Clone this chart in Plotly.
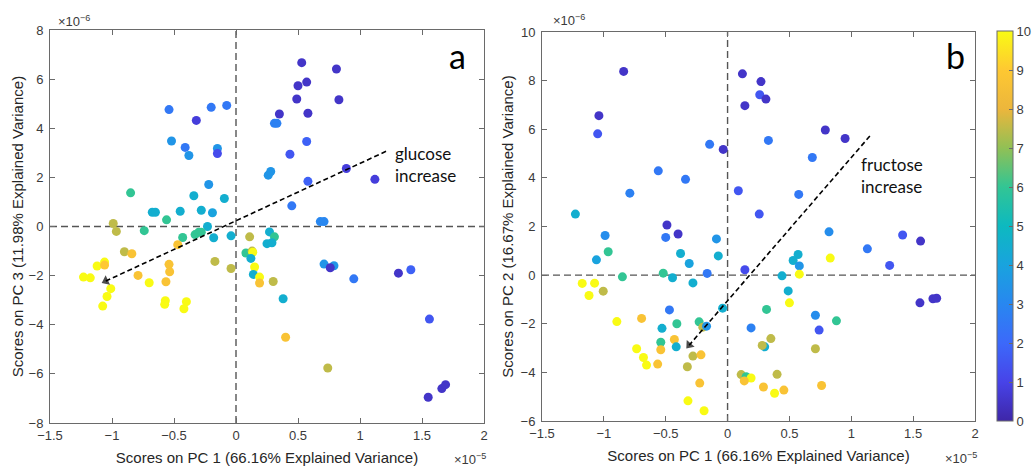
import plotly.graph_objects as go

# ---------------- data (PC1 in units of 1e-5, PC2/PC3 in units of 1e-6) ----------------
a_pc1 = [-0.54, -0.20, -0.075, -0.32, -0.52, -0.41, -0.38, -0.15, -0.15, -0.22, -0.34, -0.094,
         -0.85, -0.675, -0.65, -0.45, -0.28, -0.19, -0.56, -0.23, -0.99, -0.965, -0.74, -0.43,
         -0.33, -0.30, -0.28, -0.18, -0.04, -0.47, -0.90, -0.84, -0.17, -0.04, -1.06, -1.12,
         -1.06, -0.54, -0.535, -0.79, -1.23, -1.175, -0.70, -0.565, -1.01, -1.04, -1.075, -0.57,
         -0.575, -0.40, -0.42, 0.11, 0.27, 0.31, 0.25, 0.29, 0.08, 0.13, 0.135, 0.12,
         0.15, 0.14, 0.19, 0.19, 0.30, 0.38, 0.40, 0.74, 0.71, 0.79, 0.76, 0.95,
         1.31, 1.41, 1.56, 1.55, 1.66, 1.69, 0.53, 0.81, 0.57, 0.50, 0.49, 0.83,
         0.35, 0.58, 0.31, 0.33, 0.57, 0.435, 0.89, 1.12, 0.58, 0.26, 0.28, 0.45,
         0.68, 0.71]
a_pc3 = [4.76, 4.85, 4.93, 4.32, 3.48, 3.22, 2.89, 3.18, 2.97, 1.71, 1.25, 1.14,
         1.37, 0.58, 0.58, 0.62, 0.66, 0.56, 0.27, 0.00, 0.12, -0.20, -0.17, -0.45,
         -0.33, -0.23, -0.23, -0.46, -0.38, -0.74, -1.03, -1.11, -1.42, -1.71, -1.45, -1.61,
         -1.57, -1.54, -1.84, -1.99, -2.06, -2.09, -2.29, -2.25, -2.53, -2.85, -3.24, -3.02,
         -3.17, -3.06, -3.35, -0.42, -0.22, -0.42, -0.70, -0.66, -1.08, -1.00, -1.05, -1.30,
         -1.65, -1.95, -2.06, -2.30, -2.24, -2.94, -4.51, -5.76, -1.53, -1.60, -1.68, -2.13,
         -1.90, -1.76, -3.77, -6.95, -6.60, -6.44, 6.67, 6.41, 5.88, 5.73, 5.19, 5.16,
         4.58, 4.61, 4.20, 4.20, 3.46, 2.94, 2.36, 1.92, 1.84, 2.09, 2.24, 0.84,
         0.20, 0.20]
a_level = [2.5, 2.5, 2.5, 0.8, 3.5, 2.5, 3.5, 3.5, 1.2, 3.5, 4.5, 4.5,
           6, 4.5, 4.5, 4.5, 4.5, 4, 6, 4.5, 7.5, 7.5, 6, 6,
           6, 6, 6, 4.5, 4.5, 8.7, 7.5, 8.7, 7.5, 7.5, 10, 10,
           9, 8.7, 8.7, 8.7, 10, 10, 10, 8.7, 10, 10, 10, 10,
           10, 10, 10, 7.5, 4.5, 6, 4.5, 4.5, 6, 7.5, 10, 4.5,
           10, 4.5, 10, 8.7, 7.5, 4.5, 8.7, 7.5, 3.5, 3.5, 0.5, 2.5,
           0.5, 1.8, 1.5, 0.5, 0.5, 0.5, 0.5, 0.5, 0.5, 0.5, 0.5, 0.5,
           0.5, 0.5, 2.8, 2.8, 1.8, 1.5, 0.8, 0.8, 1.8, 3.5, 3.5, 2.5,
           3, 3]

b_pc1 = [-0.84, -1.04, -1.05, -0.145, -0.035, -0.56, -0.34, -0.79, -1.23, -0.49, -0.40, -0.99,
         -0.50, -0.09, 0.12, 0.27, 0.26, 0.31, 0.14, 0.33, 0.087, 0.256, 0.79, 0.95,
         0.685, 0.575, 0.82, 1.415, 1.56, 1.13, 1.31, 0.83, 0.57, 0.53, 0.58, 0.58,
         0.44, 0.49, 0.50, 0.315, 1.555, 1.66, 1.69, 0.71, 0.88, 0.74, 0.35, 0.30,
         0.28, 0.71, 0.40, 0.29, 0.76, 0.38, 0.455, -1.06, -0.965, -0.38, -0.31, -0.075,
         -0.85, -0.52, -0.445, -0.28, -0.165, 0.14, -1.175, -1.075, -1.12, -1.005, -0.895, -0.695,
         -0.47, -0.04, -0.53, -0.41, -0.23, -0.20, -0.17, 0.19, -0.54, -0.43, -0.415, -0.54,
         -0.735, -0.68, -0.655, -0.565, -0.28, -0.215, -0.325, -0.225, -0.32, -0.19, 0.11, 0.15,
         0.19, 0.135]
b_pc2 = [8.38, 6.56, 5.81, 5.38, 5.17, 4.29, 3.94, 3.37, 2.51, 2.06, 1.69, 1.63,
         1.55, 1.49, 8.28, 7.96, 7.42, 7.24, 6.97, 5.54, 3.47, 2.51, 5.97, 5.62,
         4.84, 3.32, 1.78, 1.65, 1.40, 1.08, 0.40, 0.70, 0.85, 0.60, 0.38, 0.04,
         -0.03, -0.65, -1.14, -1.41, -1.14, -0.97, -0.95, -1.65, -1.88, -2.26, -2.61, -2.95,
         -2.89, -3.03, -4.08, -4.60, -4.54, -4.86, -4.73, 0.63, 0.96, 0.89, 0.48, 0.79,
         -0.07, 0.08, -0.11, -0.32, 0.07, 0.22, -0.34, -0.33, -0.84, -0.66, -1.91, -1.78,
         -1.43, -1.36, -2.19, -2.00, -1.92, -2.14, -2.10, -2.17, -2.76, -2.65, -2.95, -3.07,
         -3.03, -3.39, -3.70, -3.66, -3.33, -3.28, -3.77, -4.44, -5.17, -5.58, -4.09, -4.18,
         -4.23, -4.35]
b_level = [0.5, 0.5, 1.5, 2.5, 0.5, 2.5, 2.5, 2.8, 4.5, 0.5, 0.5, 3.2,
           2.5, 3.5, 0.5, 0.5, 1.5, 0.5, 0.5, 2.5, 1.5, 1.5, 0.5, 0.5,
           2.5, 2.5, 3.2, 1.5, 0.5, 2.5, 1.5, 10, 4.5, 4.5, 3.5, 10,
           4.5, 4.5, 10, 6, 0.5, 0.5, 0.5, 3.2, 6, 1.5, 7.5, 4.5,
           7.5, 7.5, 7.5, 8.7, 8.7, 10, 8.7, 4, 6, 4.5, 4, 4.5,
           6, 6, 4.5, 4.5, 2.5, 1.2, 10, 10, 10, 7.5, 10, 8.7,
           2.5, 4.5, 4.5, 6, 6, 7.5, 3.5, 2.8, 6, 8.7, 4.5, 8.7,
           10, 10, 10, 8.7, 7.5, 8.7, 7.5, 8.7, 10, 10, 7.5, 6,
           10, 8.7]

# arrows: [start, end] in data units
a_arrow_x = [1.21, -1.05]
a_arrow_y = [3.06, -2.22]
b_arrow_x = [1.15, -0.31]
b_arrow_y = [5.72, -2.88]

x_ticks = [-1.5, -1, -0.5, 0, 0.5, 1, 1.5, 2]
a_y_ticks = [-8, -6, -4, -2, 0, 2, 4, 6, 8]
b_y_ticks = [-6, -4, -2, 0, 2, 4, 6, 8, 10]
cbar_ticks = list(range(0, 11))

x_title = "Scores on PC 1 (66.16% Explained Variance)"
a_y_title = "Scores on PC 3 (11.98% Explained Variance)"
b_y_title = "Scores on PC 2 (16.67% Explained Variance)"

# ---------------- styling ----------------
W, H = 1035, 468


def px_x(p):
    return p / W


def px_y(p):
    return 1 - p / H


parula = [
    [0.0, "rgb(62,38,168)"],
    [0.1, "rgb(71,67,232)"],
    [0.2, "rgb(60,105,250)"],
    [0.3, "rgb(40,135,240)"],
    [0.4, "rgb(25,163,222)"],
    [0.5, "rgb(13,185,192)"],
    [0.6, "rgb(50,197,148)"],
    [0.7, "rgb(145,192,85)"],
    [0.8, "rgb(236,182,60)"],
    [0.9, "rgb(254,200,50)"],
    [1.0, "rgb(249,251,20)"],
]

AX_COLOR = "#6a6a6a"
TICK_FONT = dict(family="Liberation Sans, Arial, sans-serif", size=13, color="#3a3a3a")
TITLE_FONT = dict(family="Liberation Sans, Arial, sans-serif", size=15, color="#262626")
CAL_FONT = "Lato, Open Sans, sans-serif"

fig = go.Figure()

fig.add_trace(go.Scatter(
    x=a_pc1, y=a_pc3, mode="markers", xaxis="x", yaxis="y",
    marker=dict(size=9, color=a_level, coloraxis="coloraxis", line=dict(width=0)),
    showlegend=False, hoverinfo="x+y",
))
fig.add_trace(go.Scatter(
    x=b_pc1, y=b_pc2, mode="markers", xaxis="x2", yaxis="y2",
    marker=dict(size=9, color=b_level, coloraxis="coloraxis", line=dict(width=0)),
    showlegend=False, hoverinfo="x+y",
))

for ax, ay, xa, ya in [(a_arrow_x, a_arrow_y, "x", "y"), (b_arrow_x, b_arrow_y, "x2", "y2")]:
    fig.add_trace(go.Scatter(
        x=ax, y=ay, mode="lines+markers", xaxis=xa, yaxis=ya,
        line=dict(color="black", width=1.6, dash="5px,3px"),
        marker=dict(symbol=["circle", "triangle-up"], size=[0, 9], color="black",
                    angleref="previous", line=dict(width=0)),
        showlegend=False, hoverinfo="skip",
    ))

axis_common = dict(
    showline=True, linecolor=AX_COLOR, linewidth=1, mirror="allticks",
    ticks="inside", ticklen=5, tickcolor=AX_COLOR, tickwidth=1,
    showgrid=False, zeroline=False, tickfont=TICK_FONT, automargin=False,
    title_font=TITLE_FONT,
)

xa_dom = [px_x(50), px_x(484)]
xb_dom = [px_x(542), px_x(975)]
ya_dom = [px_y(423), px_y(30)]
yb_dom = [px_y(421), px_y(32)]

fig.update_layout(
    width=W, height=H,
    margin=dict(l=0, r=0, t=0, b=0, autoexpand=False),
    paper_bgcolor="white", plot_bgcolor="white",
    xaxis=dict(domain=xa_dom, range=[-1.5, 2], tickvals=x_ticks, anchor="y",
               title=dict(text=x_title, standoff=10), ticklabelstandoff=0, **axis_common),
    yaxis=dict(domain=ya_dom, range=[-8, 8], tickvals=a_y_ticks, anchor="x",
               title=dict(text=a_y_title, standoff=1), ticklabelstandoff=3, **axis_common),
    xaxis2=dict(domain=xb_dom, range=[-1.5, 2], tickvals=x_ticks, anchor="y2",
                title=dict(text=x_title, standoff=10), ticklabelstandoff=0, **axis_common),
    yaxis2=dict(domain=yb_dom, range=[-6, 10], tickvals=b_y_ticks, anchor="x2",
                title=dict(text=b_y_title, standoff=3), ticklabelstandoff=3, **axis_common),
    coloraxis=dict(
        cmin=0, cmax=10, colorscale=parula,
        colorbar=dict(
            x=px_x(997), xanchor="left", xpad=0, ypad=0,
            y=px_y(31), yanchor="top", lenmode="pixels", len=390,
            thickness=16, thicknessmode="pixels",
            outlinecolor=AX_COLOR, outlinewidth=1,
            tickvals=cbar_ticks, ticks="inside", ticklen=4, tickcolor=AX_COLOR,
            tickfont=TICK_FONT,
        ),
    ),
)

# zero reference lines
for xa, ya in [("x", "y"), ("x2", "y2")]:
    fig.add_shape(type="line", xref=xa, yref=f"{ya} domain", x0=0, x1=0, y0=0, y1=1,
                  line=dict(color="#555555", width=1.4, dash="7px,4px"), layer="below")
    fig.add_shape(type="line", xref=f"{xa} domain", yref=ya, x0=0, x1=1, y0=0, y1=0,
                  line=dict(color="#555555", width=1.4, dash="7px,4px"), layer="below")

ann = []
# panel letters
ann.append(dict(text="a", x=px_x(457), y=px_y(55), font=dict(family=CAL_FONT, size=34, color="black")))
ann.append(dict(text="b", x=px_x(955), y=px_y(55), font=dict(family=CAL_FONT, size=34, color="black")))
# arrow labels
ann.append(dict(text="glucose<br>increase", x=px_x(393), y=px_y(164), xanchor="left", align="left",
                font=dict(family=CAL_FONT, size=17, color="#111")))
ann.append(dict(text="fructose<br>increase", x=px_x(859), y=px_y(175), xanchor="left", align="left",
                font=dict(family=CAL_FONT, size=17, color="#111")))
# exponent labels
EXP_FONT = dict(family="Liberation Sans, Arial, sans-serif", size=13, color="#3a3a3a")
ann.append(dict(text="×10<sup>−6</sup>", x=px_x(56), y=px_y(21), xanchor="left", font=EXP_FONT))
ann.append(dict(text="×10<sup>−6</sup>", x=px_x(551), y=px_y(20), xanchor="left", font=EXP_FONT))
ann.append(dict(text="×10<sup>−5</sup>", x=px_x(452), y=px_y(459), xanchor="left", font=EXP_FONT))
ann.append(dict(text="×10<sup>−5</sup>", x=px_x(943), y=px_y(458), xanchor="left", font=EXP_FONT))
for a in ann:
    a.setdefault("xanchor", "center")
    a.update(xref="paper", yref="paper", showarrow=False, yanchor="middle")
fig.update_layout(annotations=ann)

fig.write_html(
    "out.html",
    config={"displayModeBar": False},
    post_script="document.body.style.margin='0px'; document.body.style.overflow='hidden';",
)
